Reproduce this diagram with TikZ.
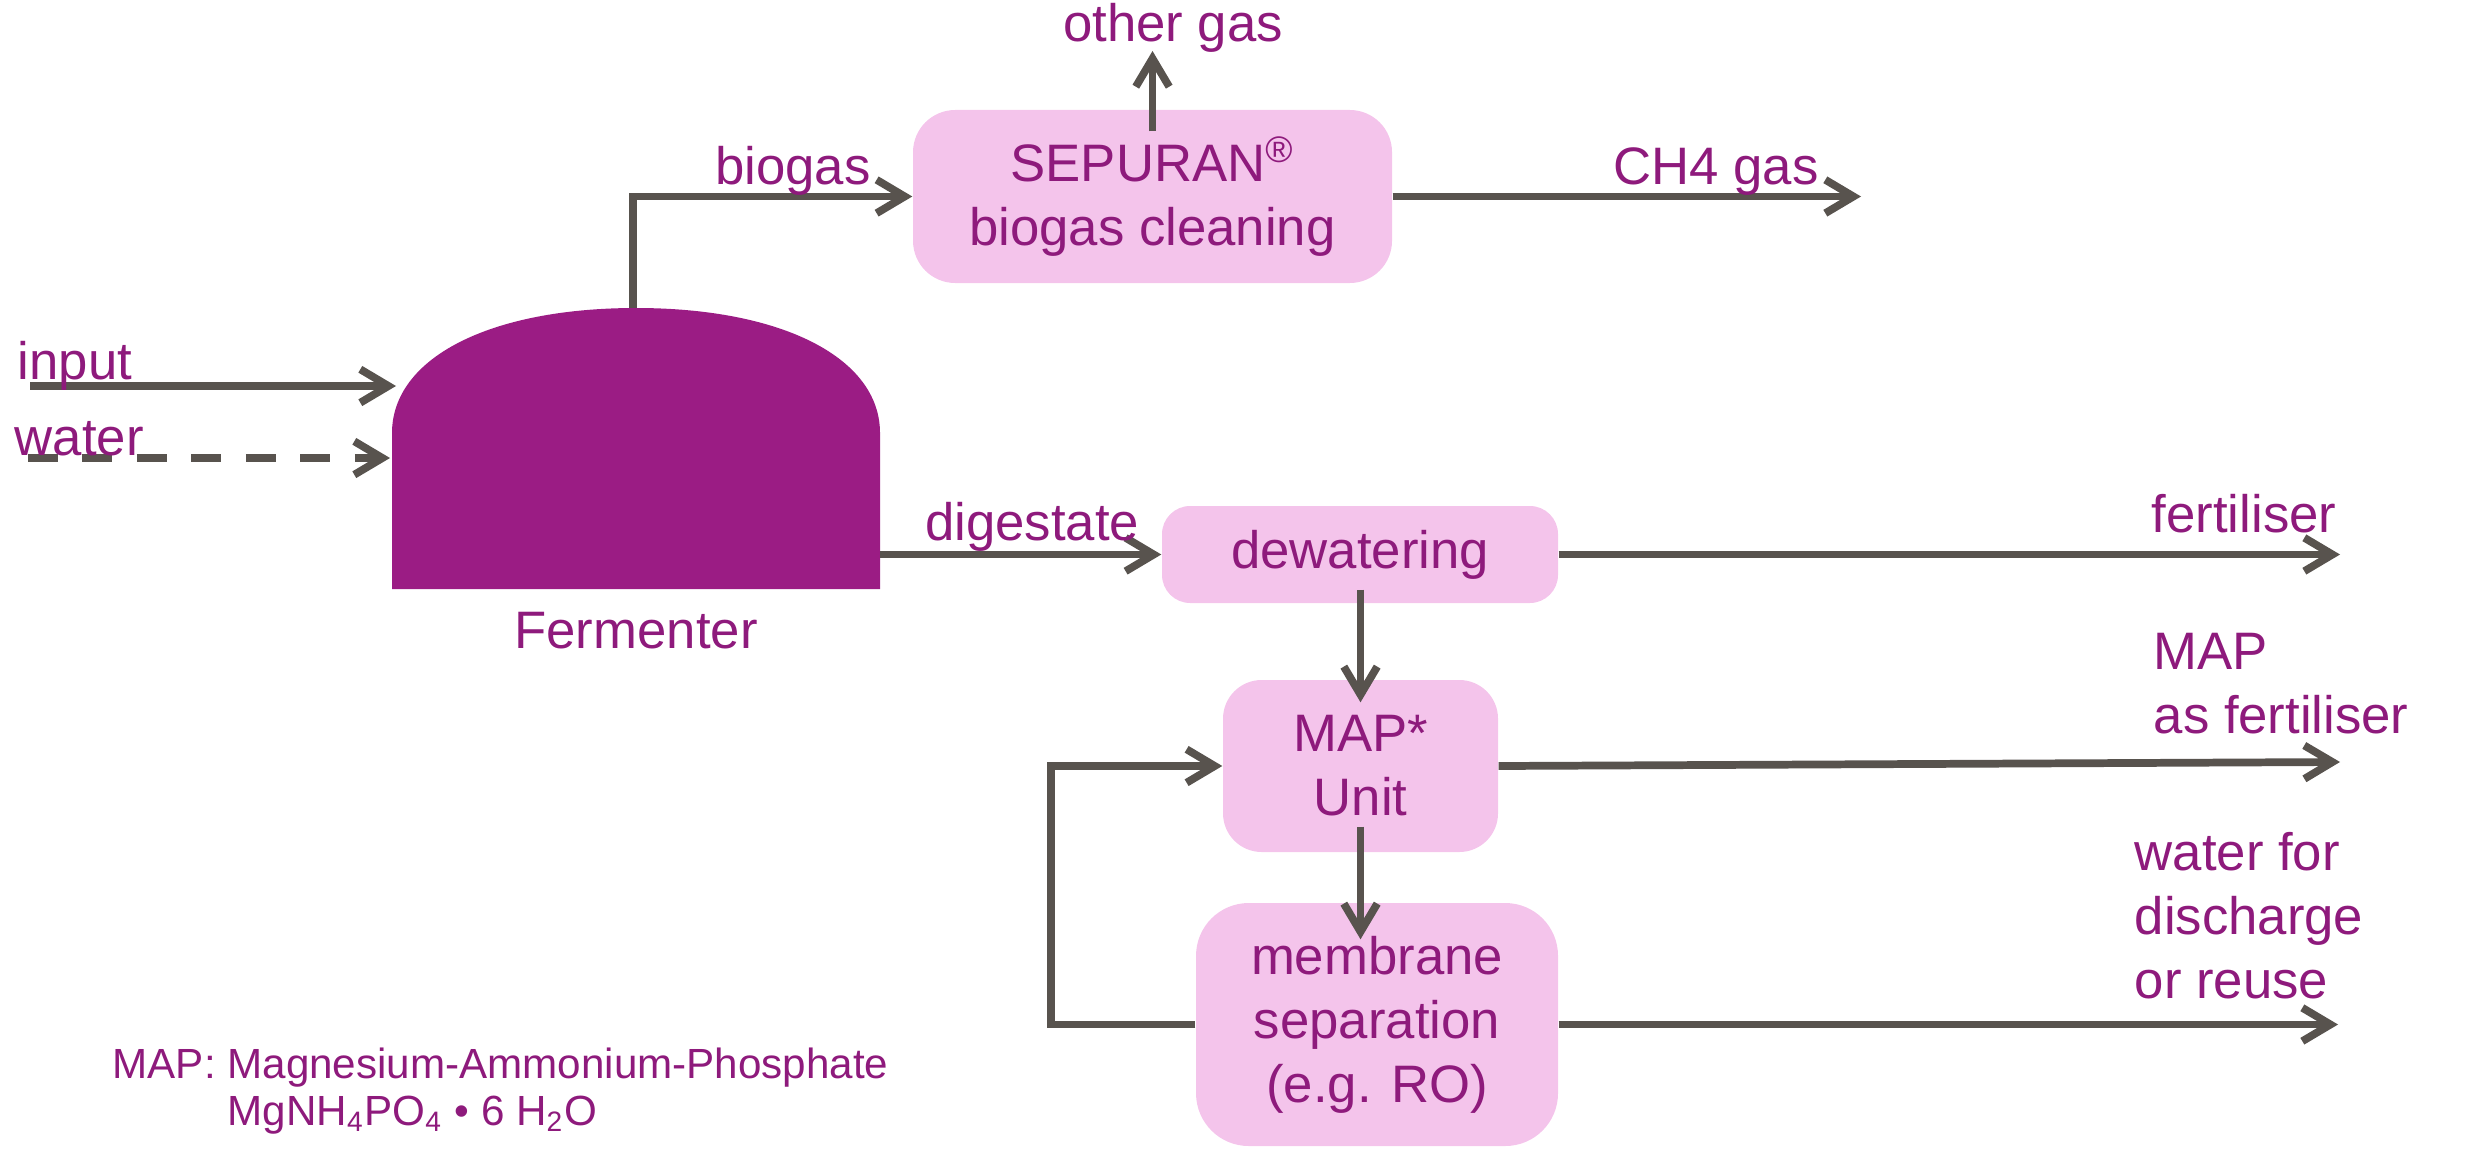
\documentclass[tikz,border=0pt]{standalone}
\usepackage{fontspec}
\setmainfont{Liberation Sans}
\usetikzlibrary{arrows.meta}
\definecolor{ferm}{RGB}{155,28,132}
\definecolor{txt}{RGB}{142,26,124}
\definecolor{boxfill}{RGB}{244,196,235}
\definecolor{arrowgray}{RGB}{88,83,78}
\begin{document}
\begin{tikzpicture}[x=0.1mm,y=-0.1mm,
  every node/.style={text=txt, font=\fontsize{15}{18.2}\selectfont, inner sep=0pt},
  box/.style={fill=boxfill, align=center},
  flow/.style={draw=arrowgray, line width=2.2pt},
  arr/.style={flow, -{Straight Barb[length=8pt,width=9.5pt]}},
]
\useasboundingbox (0,0) rectangle (2467,1148);

% fermenter
\fill[ferm] (392,589) -- (392,433)
  .. controls (392,358) and (489.6,308) .. (636,308)
  .. controls (782.4,308) and (880,358) .. (880,433)
  -- (880,589) -- cycle;
\coordinate (ftop) at (633,308);
\coordinate (fright) at (880,554.5);
\coordinate (finput) at (396,386);
\coordinate (fwater) at (390,458);

% process boxes
\node[box, minimum width=47.9mm, minimum height=17.3mm, rounded corners=12pt] (sep) at (1152.5,196.5) {SEPURAN\textsuperscript{\textregistered}\\biogas cleaning};
\node[box, minimum width=39.6mm, minimum height=9.7mm, rounded corners=8pt] (dew) at (1360,554.5) {dewatering};
\node[box, minimum width=27.5mm, minimum height=17.2mm, rounded corners=11pt] (map) at (1360.5,766) {MAP*\\Unit};
\node[box, minimum width=36.2mm, minimum height=24.3mm, rounded corners=15pt] (mem) at (1377,1024.5) {membrane\\separation\\(e.g. RO)};

% free ends
\coordinate (inS) at (30,386);
\coordinate (waS) at (28,458);
\coordinate (og) at (1152.5,51);
\coordinate (ch4) at (1861,196.5);
\coordinate (fertE) at (2340,554.5);
\coordinate (mapE) at (2340,762);
\coordinate (memE) at (2338,1024.5);
\coordinate (loop) at (1051,1024.5);

% connectors
\draw[arr] (inS) -- (finput);
\draw[arr, dash pattern=on 8.5pt off 7pt] (waS) -- (fwater);
\draw[arr] (ftop) |- (sep.west);
\draw[arr, shorten <=-2.2mm] (sep.north) -- (og);
\draw[arr] (sep.east) -- (ch4);
\draw[arr] (fright) -- (dew.west);
\draw[arr] (dew.east) -- (fertE);
\draw[arr, shorten <=-1.4mm, shorten >=-2.3mm] (dew.south -| map.north) -- (map.north);
\draw[arr] (map.east) -- (mapE);
\draw[arr, shorten <=-2.6mm, shorten >=-3.7mm] (map.south) -- (map.south |- mem.north);
\draw[arr] (mem.west) -- (loop) |- (map.west);
\draw[arr] (mem.east) -- (memE);

% labels
\node[anchor=base] (tog) at (1173,42) {other gas};
\node[anchor=base] (tch4) at (1716,185) {CH4 gas};
\node[anchor=base] (tbio) at (793,184) {biogas};
\node[anchor=base west] (tin) at (17,379) {input};
\node[anchor=base west] (twa) at (14,455) {water};
\node[anchor=base] (tferm) at (636,648) {Fermenter};
\node[anchor=base] (tdig) at (1032,540) {digestate};
\node[anchor=base west] (tfert) at (2151,532) {fertiliser};
\node[anchor=west, align=left] (tmap) at (2153,684) {MAP\\as fertiliser};
\node[anchor=west, align=left] (twat) at (2134,916) {water for\\discharge\\or reuse};
\node[anchor=west, align=left, font=\fontsize{12}{13.4}\selectfont] (legend) at (112,1091) {MAP: Magnesium-Ammonium-Phosphate\\\hspace*{32.7pt}MgNH\textsubscript{4}PO\textsubscript{4} • 6 H\textsubscript{2}O};
\end{tikzpicture}
\end{document}
